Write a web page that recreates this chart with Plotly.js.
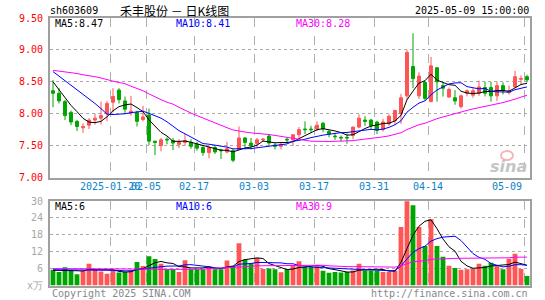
<!DOCTYPE html>
<html><head><meta charset="utf-8">
<script src="https://cdn.plot.ly/plotly-3.0.1.min.js"></script>
<style>html,body{margin:0;padding:0;background:#fff}#c{width:545px;height:300px}</style>
</head><body><div id="c"></div>
<script>
// ---- data ----
const dates = [
 '2025-01-06','2025-01-07','2025-01-08','2025-01-09','2025-01-10','2025-01-13','2025-01-14','2025-01-15','2025-01-16','2025-01-17',
 '2025-01-20','2025-01-21','2025-01-22','2025-01-23','2025-01-24','2025-01-27','2025-02-05','2025-02-06','2025-02-07','2025-02-10',
 '2025-02-11','2025-02-12','2025-02-13','2025-02-14','2025-02-17','2025-02-18','2025-02-19','2025-02-20','2025-02-21','2025-02-24',
 '2025-02-25','2025-02-26','2025-02-27','2025-02-28','2025-03-03','2025-03-04','2025-03-05','2025-03-06','2025-03-07','2025-03-10',
 '2025-03-11','2025-03-12','2025-03-13','2025-03-14','2025-03-17','2025-03-18','2025-03-19','2025-03-20','2025-03-21','2025-03-24',
 '2025-03-25','2025-03-26','2025-03-27','2025-03-28','2025-03-31','2025-04-01','2025-04-02','2025-04-03','2025-04-07','2025-04-08',
 '2025-04-09','2025-04-10','2025-04-11','2025-04-14','2025-04-15','2025-04-16','2025-04-17','2025-04-18','2025-04-21','2025-04-22',
 '2025-04-23','2025-04-24','2025-04-25','2025-04-28','2025-04-29','2025-04-30','2025-05-06','2025-05-07','2025-05-08','2025-05-09'];
const open = [8.36,8.32,8.19,8.02,7.88,7.78,7.82,7.90,7.93,8.00,
 8.18,8.37,8.20,8.01,8.02,7.91,7.98,7.57,7.50,7.60,
 7.58,7.52,7.55,7.55,7.52,7.47,7.39,7.47,7.43,7.40,
 7.42,7.44,7.62,7.54,7.53,7.59,7.65,7.51,7.49,7.60,
 7.59,7.67,7.76,7.76,7.76,7.85,7.72,7.65,7.63,7.63,
 7.66,7.79,7.90,7.90,7.87,7.75,7.84,7.89,8.00,8.28,
 8.74,8.28,8.49,8.19,8.72,8.44,8.26,8.25,8.11,8.32,
 8.29,8.32,8.41,8.41,8.28,8.44,8.33,8.42,8.54,8.58];
const high = [8.53,8.40,8.22,8.05,7.90,7.85,7.93,8.00,8.19,8.20,
 8.40,8.40,8.27,8.28,8.05,8.12,8.08,7.57,7.62,7.63,
 7.62,7.60,7.68,7.60,7.56,7.50,7.50,7.50,7.45,7.56,
 7.45,7.80,7.63,7.62,7.62,7.62,7.68,7.54,7.54,7.63,
 7.68,7.79,7.88,7.81,7.88,7.87,7.75,7.70,7.66,7.69,
 7.80,7.99,7.96,7.92,7.89,7.92,7.99,8.06,8.31,9.00,
 9.26,8.65,8.52,8.89,8.73,8.49,8.41,8.37,8.30,8.38,
 8.40,8.52,8.50,8.50,8.50,8.49,8.44,8.67,8.60,8.61];
const low = [8.10,8.16,7.90,7.82,7.73,7.70,7.76,7.83,7.83,7.88,
 8.02,8.16,8.00,7.97,7.80,7.88,7.51,7.35,7.41,7.52,
 7.43,7.46,7.50,7.45,7.42,7.34,7.30,7.37,7.29,7.38,
 7.24,7.43,7.44,7.44,7.47,7.56,7.50,7.44,7.44,7.55,
 7.50,7.62,7.68,7.70,7.73,7.71,7.63,7.59,7.56,7.53,
 7.60,7.77,7.81,7.76,7.68,7.72,7.81,7.83,7.84,8.22,
 8.40,8.23,8.20,8.18,8.19,8.27,8.25,8.14,8.08,8.27,
 8.25,8.28,8.27,8.19,8.20,8.30,8.30,8.41,8.45,8.49];
const close = [8.32,8.20,7.97,7.87,7.80,7.80,7.90,7.93,7.97,8.16,
 8.27,8.22,8.07,8.04,7.88,7.95,7.57,7.55,7.59,7.59,
 7.54,7.56,7.58,7.49,7.46,7.39,7.47,7.40,7.42,7.45,
 7.27,7.62,7.55,7.50,7.59,7.60,7.54,7.49,7.52,7.59,
 7.67,7.75,7.75,7.75,7.82,7.76,7.68,7.64,7.62,7.62,
 7.79,7.93,7.88,7.81,7.74,7.87,7.96,8.05,8.25,8.96,
 8.55,8.59,8.24,8.75,8.50,8.40,8.38,8.20,8.28,8.36,
 8.36,8.42,8.32,8.28,8.44,8.36,8.36,8.58,8.55,8.53];
const volume = [5.6,4.8,6.5,5.3,4.0,5.2,7.7,5.8,5.0,4.2,
 5.4,4.6,4.8,5.4,8.3,6.9,10.4,9.4,7.7,5.8,
 5.8,4.8,9.0,5.8,5.8,5.8,6.7,5.8,5.8,8.9,
 7.0,15.0,9.2,8.0,9.8,5.9,6.0,5.8,4.7,5.8,
 7.0,8.6,6.6,6.6,7.0,5.2,4.5,4.8,4.6,4.8,
 5.3,7.7,5.3,5.3,5.3,4.8,4.8,5.3,20.8,29.9,
 28.5,20.8,14.0,23.5,14.0,10.2,7.0,6.2,5.6,5.8,
 6.0,7.7,7.0,8.1,6.9,5.8,9.5,11.3,5.9,3.4];
// moving-average values at the left edge (they depend on days before the window)
const ma5Head  = [8.50,8.38,8.25,8.13];
const ma10Head = [8.66,8.59,8.51,8.44,8.37,8.30,8.23,8.16,8.08];
const ma30Head = [8.68,8.67,8.66,8.64,8.63,8.61,8.60,8.58,8.56,8.53,8.51,8.49,8.47,8.43,8.40,
                  8.36,8.31,8.26,8.22,8.18,8.15,8.10,8.05,8.01,7.97,7.93,7.89,7.86,7.82];
const vma5Head  = [5.4,5.4,5.5,5.4];
const vma10Head = [5.6,5.6,5.6,5.6,5.5,5.5,5.5,5.5,5.5];
const vma30Head = [6.0,6.0,6.0,6.0,6.0,6.0,5.9,5.9,5.9,5.9,5.9,5.9,5.8,5.8,5.8,
                   5.8,5.8,5.8,5.7,5.7,5.7,5.7,5.7,5.7,5.7,5.8,6.0,6.1,6.2];
const tickDates  = ['2025-01-20','2025-02-05','2025-02-17','2025-03-03','2025-03-17','2025-03-31','2025-04-14','2025-05-09'];
const tickLabels = ['2025-01-20','02-05','02-17','03-03','03-17','03-31','04-14','05-09'];
const priceTicks = [7.00,7.50,8.00,8.50,9.00,9.50];
const volTicks = [0,6,12,18,24,30];
const volTickLabels = ['x万','6','12','18','24','30'];
const stockCode = 'sh603609';
const chartTitle = '禾丰股份 － 日K线图';
const stamp = '2025-05-09 15:00:00';
const maLabels = ['MA5:8.47','MA10:8.41','MA30:8.28'];
const vmaLabels = ['MA5:6','MA10:6','MA30:9'];

// ---- build ----
const W=545,H=300;
const px=x=>x/W, py=y=>1-y/H;
const idx = dates.map((d,i)=>i);
function ma(arr,n,head){return arr.map((v,i)=> i<n-1 ? head[i] : arr.slice(i-n+1,i+1).reduce((a,b)=>a+b,0)/n);}
const UP='#ff5555', DN='#00a600';
const volColors = close.map((c,i)=> c>=open[i]?UP:DN);
const gridPos = tickDates.map(d=>dates.indexOf(d)-0.45);
const mono = 'DejaVu Sans Mono, Liberation Mono, monospace';

const traces = [
 {type:'candlestick',x:idx,open:open,high:high,low:low,close:close,xaxis:'x',yaxis:'y',
  increasing:{line:{color:UP,width:1},fillcolor:UP},decreasing:{line:{color:DN,width:1},fillcolor:DN},
  whiskerwidth:0,hoverinfo:'skip'},
 {type:'scatter',mode:'lines',x:idx,y:ma(close,5,ma5Head),line:{color:'#000',width:1},xaxis:'x',yaxis:'y',hoverinfo:'skip'},
 {type:'scatter',mode:'lines',x:idx,y:ma(close,10,ma10Head),line:{color:'#0000ff',width:1},xaxis:'x',yaxis:'y',hoverinfo:'skip'},
 {type:'scatter',mode:'lines',x:idx,y:ma(close,30,ma30Head),line:{color:'#ff00ff',width:1},xaxis:'x',yaxis:'y',hoverinfo:'skip'},
 {type:'bar',x:idx,y:volume,marker:{color:volColors,line:{width:0}},width:0.8,xaxis:'x2',yaxis:'y2',hoverinfo:'skip'},
 {type:'scatter',mode:'lines',x:idx,y:ma(volume,5,vma5Head),line:{color:'#000',width:1},xaxis:'x2',yaxis:'y2',hoverinfo:'skip'},
 {type:'scatter',mode:'lines',x:idx,y:ma(volume,10,vma10Head),line:{color:'#0000ff',width:1},xaxis:'x2',yaxis:'y2',hoverinfo:'skip'},
 {type:'scatter',mode:'lines',x:idx,y:ma(volume,30,vma30Head),line:{color:'#ff00ff',width:1},xaxis:'x2',yaxis:'y2',hoverinfo:'skip'}
];

const xCommon = {range:[-0.5,79.5],tickvals:gridPos,showticklabels:false,ticks:'',showgrid:true,griddash:'dash',
  gridcolor:'#b0b0b0',gridwidth:1,showline:true,mirror:true,linecolor:'#a0a0a0',linewidth:2,zeroline:false,
  domain:[px(50),px(530)],fixedrange:true};
const ann = [];
tickDates.forEach((d,k)=>{
  const last = k===tickDates.length-1;
  ann.push({xref:'x',yref:'paper',x:gridPos[k],y:py(186),text:tickLabels[k],showarrow:false,
    xanchor:last?'right':'center',yanchor:'middle',font:{family:mono,size:10,color:'#0a84c8'}});
});
const topY = [24,207];
[maLabels,vmaLabels].forEach((labs,r)=>{
  const cols=['#000','#0000ff','#ff00ff'], xs=[54,175,295];
  labs.forEach((t,k)=>ann.push({xref:'paper',yref:'paper',x:px(xs[k]),y:py(topY[r]),text:t,showarrow:false,
    xanchor:'left',yanchor:'middle',borderpad:0,font:{family:mono,size:10,color:cols[k]}}));
});
ann.push({xref:'paper',yref:'paper',x:px(49),y:py(11),text:stockCode,showarrow:false,xanchor:'left',yanchor:'middle',borderpad:0,font:{family:mono,size:10,color:'#000'}});
ann.push({xref:'paper',yref:'paper',x:px(119),y:py(10.5),text:chartTitle,showarrow:false,xanchor:'left',yanchor:'middle',borderpad:0,font:{family:'Noto Sans CJK SC',size:12,color:'#000'}});
ann.push({xref:'paper',yref:'paper',x:px(530),y:py(11),text:stamp,showarrow:false,xanchor:'right',yanchor:'middle',borderpad:0,font:{family:mono,size:10,color:'#000'}});
ann.push({xref:'paper',yref:'paper',x:px(50),y:py(293),text:'Copyright 2025 SINA.COM',showarrow:false,xanchor:'left',yanchor:'middle',font:{family:mono,size:10,color:'#888'}});
ann.push({xref:'paper',yref:'paper',x:px(530),y:py(293),text:'http://finance.sina.com.cn',showarrow:false,xanchor:'right',yanchor:'middle',font:{family:mono,size:10,color:'#888'}});
ann.push({xref:'paper',yref:'paper',x:px(529),y:py(166),text:'<b><i>sina</i></b>',showarrow:false,xanchor:'right',yanchor:'middle',font:{family:'DejaVu Sans',size:16,color:'#c4c4c4'}});

const layout = {
  width:W,height:H,margin:{l:0,r:0,t:0,b:0},paper_bgcolor:'#fff',plot_bgcolor:'#fff',showlegend:false,
  xaxis:Object.assign({},xCommon,{anchor:'y',rangeslider:{visible:false}}),
  xaxis2:Object.assign({},xCommon,{anchor:'y2',matches:'x'}),
  yaxis:{domain:[py(177.5),py(18)],range:[7,9.5],tickvals:priceTicks,ticktext:priceTicks.map(v=>v.toFixed(2)),
    tickfont:{family:mono,size:10,color:'#ff0000'},ticks:'',ticklabelstandoff:3,showgrid:true,griddash:'dot',gridcolor:'#aaa',
    showline:true,mirror:true,linecolor:'#a0a0a0',linewidth:2,zeroline:false,anchor:'x',fixedrange:true},
  yaxis2:{domain:[py(285.5),py(201)],range:[0,30],tickvals:volTicks,ticktext:volTickLabels,
    tickfont:{family:mono,size:10,color:'#a8a8a8'},ticks:'',ticklabelstandoff:3,showgrid:true,griddash:'dot',gridcolor:'#aaa',
    showline:true,mirror:true,linecolor:'#a0a0a0',linewidth:2,zeroline:false,anchor:'x2',fixedrange:true},
  annotations:ann,
  shapes:[{type:'circle',xref:'paper',yref:'paper',x0:px(501),x1:px(513),y0:py(160),y1:py(151),line:{color:'#f2b8b8',width:2}}]
};
Plotly.newPlot('c',traces,layout,{staticPlot:true,displayModeBar:false});
</script></body></html>
